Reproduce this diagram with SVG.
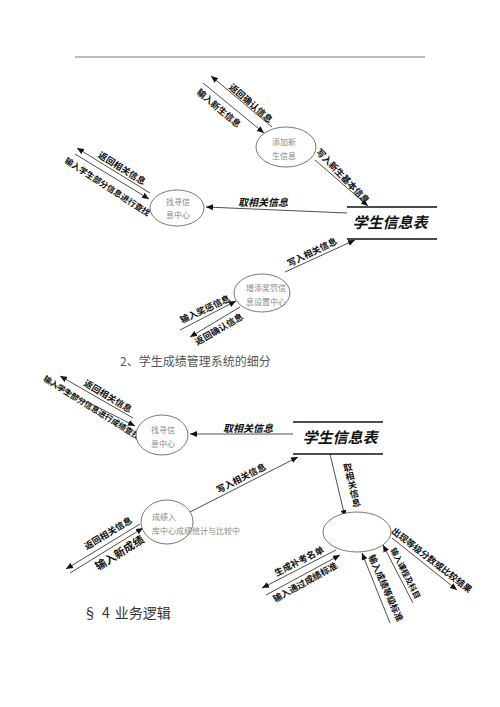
<svg xmlns="http://www.w3.org/2000/svg" width="500" height="707" viewBox="0 0 500 707">
<style>
.bg{fill:#fff}
.arr{stroke:#222;stroke-width:0.8;fill:none;marker-end:url(#ah)}
.el{fill:#fff;stroke:#555;stroke-width:0.8}
.nt{font-family:"Noto Sans CJK SC","DejaVu Sans",sans-serif;font-size:8px;fill:#888;text-anchor:middle}
.lb{font-family:"Noto Sans CJK SC","DejaVu Sans",sans-serif;font-weight:bold;font-size:9px;fill:#111;text-anchor:middle;dominant-baseline:central}
.tb{font-family:"Noto Sans CJK SC","DejaVu Sans",sans-serif;font-weight:bold;font-style:italic;font-size:15px;fill:#111;text-anchor:middle}
.bar{stroke:#111;stroke-width:1.6}
.cap{font-family:"Noto Sans CJK SC","DejaVu Sans",sans-serif;font-size:12px;fill:#555}
</style>
<defs>
<marker id="ah" markerWidth="8" markerHeight="6" refX="7" refY="3" orient="auto" markerUnits="userSpaceOnUse">
<path d="M0,0 L7,3 L0,6 z" fill="#111"/>
</marker>
</defs>
<rect class="bg" x="0" y="0" width="500" height="707"/>
<line x1="75" y1="57" x2="425" y2="57" stroke="#555" stroke-width="0.8"/>

<g id="connectors">
<line class="arr" x1="272" y1="127" x2="211" y2="76"/>
<line class="arr" x1="203" y1="83" x2="264" y2="133"/>
<line class="arr" x1="315" y1="160" x2="368" y2="206"/>
<line class="arr" x1="347" y1="213" x2="206" y2="207"/>
<line class="arr" x1="150" y1="193" x2="77" y2="148"/>
<line class="arr" x1="75" y1="154" x2="149" y2="199"/>
<line class="arr" x1="285" y1="272" x2="355" y2="240"/>
<line class="arr" x1="180" y1="330" x2="236" y2="301"/>
<line class="arr" x1="240" y1="307" x2="190" y2="337"/>

<line class="arr" x1="133" y1="418" x2="60" y2="376"/>
<line class="arr" x1="50" y1="383" x2="135" y2="426"/>
<line class="arr" x1="293" y1="434" x2="190" y2="434"/>
<line class="arr" x1="190" y1="512" x2="298" y2="457"/>
<line class="arr" x1="330" y1="454" x2="345" y2="517"/>
<line class="arr" x1="140" y1="524" x2="66" y2="569"/>
<line class="arr" x1="70" y1="573" x2="143" y2="528"/>
<line class="arr" x1="336" y1="550" x2="262" y2="588"/>
<line class="arr" x1="266" y1="595" x2="340" y2="555"/>
<line class="arr" x1="390" y1="623" x2="362" y2="553"/>
<line class="arr" x1="413" y1="603" x2="383" y2="545"/>
<line class="arr" x1="392" y1="538" x2="457" y2="590"/>
</g>

<g id="labels">
<text class="lb" transform="translate(251,103) rotate(41)">返回确认信息</text>
<text class="lb" transform="translate(219,108) rotate(40)">输入新生信息</text>
<text class="lb" transform="translate(343,176) rotate(46)">写入新生基本信息</text>
<text class="lb" style="font-size:10px;font-style:italic" transform="translate(263,201)">取相关信息</text>
<text class="lb" transform="translate(122,168) rotate(32)">返回相关信息</text>
<text class="lb" style="font-size:8.3px" transform="translate(108,186) rotate(33)">输入学生部分信息进行查找</text>
<text class="lb" transform="translate(312,252) rotate(-26)">写入相关信息</text>
<text class="lb" transform="translate(205,309) rotate(-25)">输入奖惩信息</text>
<text class="lb" transform="translate(219,329) rotate(-30)">返回确认信息</text>

<text class="lb" transform="translate(108,396) rotate(31)">返回相关信息</text>
<text class="lb" style="font-size:8px" transform="translate(92,407) rotate(32)">输入学生部分信息进行成绩查找</text>
<text class="lb" style="font-size:10px;font-style:italic" transform="translate(248,427)">取相关信息</text>
<text class="lb" transform="translate(241,478) rotate(-27)">写入相关信息</text>
<text class="lb" style="writing-mode:vertical-rl" transform="translate(352,485) rotate(-13)">取相关信息</text>
<text class="lb" transform="translate(108,533) rotate(-31)">返回相关信息</text>
<text class="lb" style="font-size:11px" transform="translate(119,552) rotate(-32)">输入新成绩</text>
<text class="lb" transform="translate(299,561) rotate(-27)">生成补考名单</text>
<text class="lb" transform="translate(305,582) rotate(-29)">输入通过成绩标准</text>
<text class="lb" transform="translate(386,588) rotate(66)">输入成绩等级标准</text>
<text class="lb" style="font-size:8px" transform="translate(406,573) rotate(63)">输入课程及科目</text>
<text class="lb" transform="translate(432,560) rotate(38)">出现等级分数或比较结果</text>
</g>

<g id="n-add-new">
<ellipse class="el" cx="286" cy="147" rx="30" ry="20"/>
<text class="nt" x="284" y="145">添加新</text>
<text class="nt" x="284" y="159">生信息</text>
</g>
<g id="n-table1">
<line class="bar" x1="347" y1="207" x2="437" y2="207"/>
<line class="bar" x1="347" y1="239" x2="437" y2="239"/>
<text class="tb" x="390" y="228">学生信息表</text>
</g>
<g id="n-find1">
<ellipse class="el" cx="177" cy="208" rx="27" ry="18"/>
<text class="nt" x="178" y="205">找寻信</text>
<text class="nt" x="178" y="218">息中心</text>
</g>
<g id="n-reward">
<ellipse class="el" cx="262" cy="293" rx="28" ry="19"/>
<text class="nt" x="266" y="291">增添奖罚信</text>
<text class="nt" x="266" y="305">息设置中心</text>
</g>

<text class="cap" x="120" y="366">2、学生成绩管理系统的细分</text>

<g id="n-find2">
<ellipse class="el" cx="162" cy="435" rx="26" ry="20"/>
<text class="nt" x="163" y="433">找寻信</text>
<text class="nt" x="163" y="447">息中心</text>
</g>
<g id="n-table2">
<line class="bar" x1="293" y1="422" x2="383" y2="422"/>
<line class="bar" x1="293" y1="454" x2="383" y2="454"/>
<text class="tb" x="340" y="443">学生信息表</text>
</g>
<g id="n-score">
<ellipse class="el" cx="167" cy="522" rx="26" ry="22"/>
<text class="nt" x="152" y="520" style="text-anchor:start">成绩入</text>
<text class="nt" x="152" y="534" style="text-anchor:start">库中心成绩统计与比较中</text>
</g>
<g id="n-stat">
<ellipse class="el" cx="357" cy="532" rx="34" ry="20"/>
</g>

<text x="83" y="618" style="font-family:'Noto Sans CJK SC','DejaVu Sans',sans-serif;font-size:14px;fill:#333">§<tspan dx="5">4</tspan><tspan dx="5">业务逻辑</tspan></text>
</svg>
